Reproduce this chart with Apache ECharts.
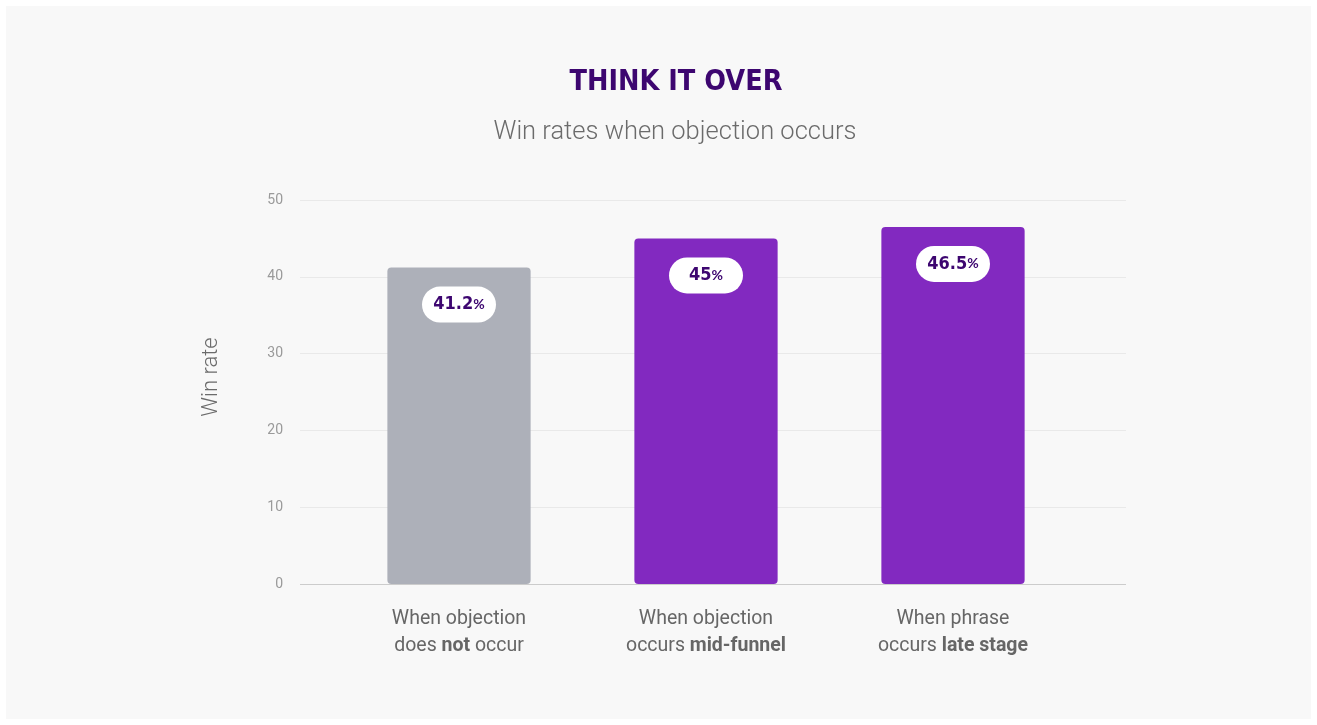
<!DOCTYPE html>
<html>
<head>
<meta charset="utf-8">
<script src="https://cdn.jsdelivr.net/npm/echarts@6/dist/echarts.min.js"></script>
<style>
  html, body { margin: 0; padding: 0; background: #ffffff; }
  #card { position: absolute; left: 6px; top: 6px; width: 1305px; height: 713px; background: #f8f8f8; }
  #main { position: absolute; left: 0; top: 0; width: 1317px; height: 725px; }
</style>
</head>
<body>
<div id="card"></div>
<div id="main"></div>
<script>
// 数据
var categories = ['notOccur', 'midFunnel', 'lateStage'];
var categoryLabels = [
    'When objection\n{n|does }{b|not}{n| occur}',
    'When objection\n{n|occurs }{b|mid-funnel}',
    'When phrase\n{n|occurs }{b|late stage}'
];
var winRates = [41.2, 45, 46.5];
var barColors = ['#adb0b9', '#8229c0', '#8229c0'];
var yTicks = [0, 10, 20, 30, 40, 50];

var myChart = echarts.init(document.getElementById('main'));

var option = {
    backgroundColor: 'transparent',
    title: [{
        text: 'THINK IT OVER',
        left: 671,
        textAlign: 'center',
        top: 63,
        textStyle: {
            color: '#3d0670',
            fontFamily: 'DejaVu Sans Condensed',
            fontWeight: 'bold',
            fontSize: 28.5
        }
    }, {
        text: 'Win rates when objection occurs',
        left: 670,
        textAlign: 'center',
        top: 115,
        textStyle: {
            color: '#6b6b6b',
            fontFamily: 'Roboto',
            fontWeight: 300,
            fontSize: 25.5
        }
    }],
    grid: [{
        // 网格线
        left: 300,
        right: 191,
        top: 200,
        bottom: 141
    }, {
        // 柱子
        left: 335.5,
        right: 240.5,
        top: 200,
        bottom: 141
    }],
    xAxis: [{
        gridIndex: 0,
        type: 'category',
        data: categories,
        show: false
    }, {
        gridIndex: 1,
        type: 'category',
        data: categories,
        axisLine: { show: false },
        axisTick: { show: false },
        axisLabel: {
            interval: 0,
            margin: 22,
            lineHeight: 27,
            color: '#666666',
            fontFamily: 'Roboto',
            fontSize: 19.5,
            formatter: function (v, i) { return categoryLabels[i]; },
            rich: {
                n: { color: '#666666', fontFamily: 'Roboto', fontSize: 19.5, lineHeight: 27 },
                b: { color: '#666666', fontFamily: 'Roboto', fontWeight: 'bold', fontSize: 19.5, lineHeight: 27 }
            }
        }
    }],
    yAxis: [{
        gridIndex: 0,
        type: 'value',
        min: yTicks[0],
        max: yTicks[yTicks.length - 1],
        interval: 10,
        name: 'Win rate',
        nameLocation: 'middle',
        nameGap: 78,
        nameTextStyle: {
            color: '#6b6b6b',
            fontFamily: 'Roboto',
            fontWeight: 300,
            fontSize: 22,
            padding: [0, 0, 0, 30]
        },
        axisLine: { show: false },
        axisTick: { show: false },
        axisLabel: {
            margin: 17,
            color: '#9a9a9a',
            fontFamily: 'Roboto',
            fontSize: 14
        },
        splitLine: {
            lineStyle: { color: '#e9e9e9', width: 1 }
        }
    }, {
        gridIndex: 1,
        type: 'value',
        min: yTicks[0],
        max: yTicks[yTicks.length - 1],
        interval: 10,
        show: false,
        splitLine: { show: false }
    }],
    series: [{
        // 零线
        type: 'line',
        xAxisIndex: 0,
        yAxisIndex: 0,
        data: [],
        markLine: {
            silent: true,
            symbol: 'none',
            label: { show: false },
            lineStyle: { color: '#cccccc', type: 'solid', width: 1 },
            data: [{ yAxis: 0 }]
        }
    }, {
        name: 'Win rate',
        type: 'bar',
        xAxisIndex: 1,
        yAxisIndex: 1,
        barWidth: '58%',
        data: winRates.map(function (v, i) {
            return { value: v, itemStyle: { color: barColors[i] } };
        }),
        itemStyle: { borderRadius: 4 },
        label: {
            show: true,
            position: 'insideTop',
            distance: 19,
            backgroundColor: '#ffffff',
            borderRadius: 18,
            width: 50,
            align: 'center',
            padding: [8, 12, 8, 12],
            formatter: function (p) { return '{v|' + p.value + '}{p|%}'; },
            rich: {
                v: { color: '#3d0670', fontFamily: 'DejaVu Sans Condensed', fontWeight: 'bold', fontSize: 18, lineHeight: 20 },
                p: { color: '#3d0670', fontFamily: 'Lato', fontWeight: 'bold', fontSize: 14, lineHeight: 20 }
            }
        }
    }]
};

myChart.setOption(option);

window.onresize = function () {
    myChart.resize();
};
</script>
</body>
</html>
